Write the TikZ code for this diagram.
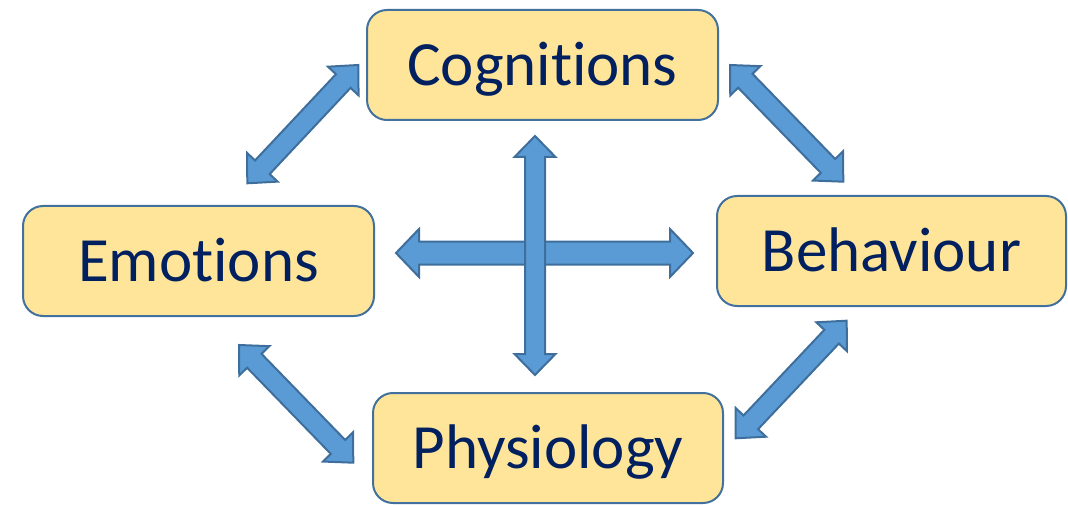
\documentclass[tikz,border=0pt]{standalone}
\usepackage{fontspec}
\setmainfont[Ligatures=NoCommon]{Carlito}
\usetikzlibrary{calc}
\definecolor{boxfill}{HTML}{FFE599}
\definecolor{boxline}{HTML}{41719C}
\definecolor{txtblue}{HTML}{002060}
\definecolor{arrfill}{HTML}{5B9BD5}
\definecolor{arrline}{HTML}{3E6E9C}
\tikzset{
  box/.style={draw=boxline, fill=boxfill, line width=2pt, rounded corners=20pt,
    minimum width=350pt, minimum height=110pt, inner sep=0pt,
    text=txtblue, font=\fontsize{63}{70}\selectfont, text height=40.6pt, text depth=0pt},
  blockarrow/.style={draw=arrline, fill=arrfill, line width=2pt, line join=miter}
}
% #1,#2 end points; #3 half shaft; #4 half head; #5 head length
\newcommand{\dblarrow}[5]{%
  \path[blockarrow] (#1)
    -- ($($(#1)!#5!(#2)$)!#4!90:(#2)$)
    -- ($($(#1)!#5!(#2)$)!#3!90:(#2)$)
    -- ($($(#2)!#5!(#1)$)!#3!-90:(#1)$)
    -- ($($(#2)!#5!(#1)$)!#4!-90:(#1)$)
    -- (#2)
    -- ($($(#2)!#5!(#1)$)!#4!90:(#1)$)
    -- ($($(#2)!#5!(#1)$)!#3!90:(#1)$)
    -- ($($(#1)!#5!(#2)$)!#3!-90:(#2)$)
    -- ($($(#1)!#5!(#2)$)!#4!-90:(#2)$)
    -- cycle;}
\begin{document}
\begin{tikzpicture}[x=1pt,y=-1pt]
\useasboundingbox (0,0) rectangle (1068,505);
\node[box, minimum width=351pt] (cog) at (542.5,65) {Cognitions};
\node[box, minimum width=351pt] (emo) at (198.5,261) {Emotions};
\node[box, minimum width=349pt] (beh) at (891.5,251) {Behaviour};
\node[box] (phy) at (548,448) {Physiology};

\coordinate (ce1) at (358.3,65);
\coordinate (ce2) at (247.3,183.3);
\coordinate (cb1) at (730,65);
\coordinate (cb2) at (843.3,181.7);
\coordinate (ep1) at (239,345);
\coordinate (ep2) at (353.3,462.7);
\coordinate (bp1) at (846.7,320.7);
\coordinate (bp2) at (735.7,438.3);
\coordinate (h1) at (396,253);
\coordinate (h2) at (693,253);
\coordinate (v1) at (535,136);
\coordinate (v2) at (535,375);

\dblarrow{ce1}{ce2}{10pt}{21pt}{22pt}
\dblarrow{cb1}{cb2}{10pt}{21pt}{22pt}
\dblarrow{ep1}{ep2}{10pt}{21pt}{22pt}
\dblarrow{bp1}{bp2}{10pt}{21pt}{22pt}
\dblarrow{h1}{h2}{11.5pt}{24pt}{23pt}
\dblarrow{v1}{v2}{10pt}{20.5pt}{21pt}
\end{tikzpicture}
\end{document}
